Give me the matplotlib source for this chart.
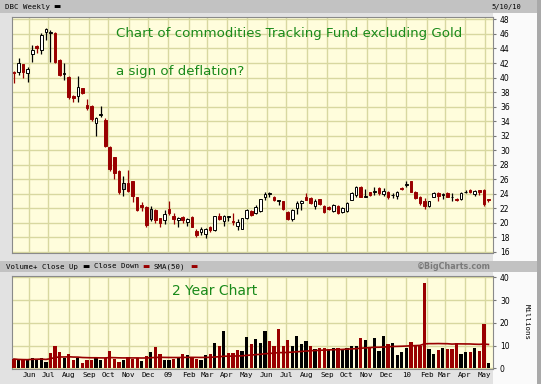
import numpy as np
import pandas as pd
import matplotlib
matplotlib.use('Agg')
import matplotlib.pyplot as plt
from matplotlib.patches import Rectangle

# weekly bars for DBC, week ending Friday
first_week = '2008-05-09'
opens = [40.8, 40.7, 41.8, 40.6, 43.3, 44.3, 43.8, 46.2, 46.1, 46.1,
         42.4, 40.5, 40.1, 37.5, 37.5, 38.5, 36.2, 36.1, 33.7, 34.9,
         34.2, 30.5, 29.0, 27.2, 25.5, 25.5, 25.7, 23.55, 22.5, 22.2,
         21.9, 21.8, 20.65, 20.4, 21.9, 21.0, 20.45, 20.8, 20.1, 20.8,
         18.95, 18.7, 18.5, 19.5, 19.05, 20.95, 20.2, 20.85, 20.2, 19.6,
         19.15, 20.65, 21.65, 21.35, 21.65, 23.6, 23.95, 23.6, 23.05, 22.95,
         21.55, 20.5, 22.0, 22.8, 23.55, 23.4, 22.35, 23.25, 22.35, 22.2,
         21.6, 22.35, 21.45, 21.6, 23.2, 23.85, 25.0, 23.6, 24.2, 24.3,
         24.8, 24.0, 24.3, 23.8, 23.7, 24.8, 25.2, 25.7, 24.3, 23.6,
         22.95, 22.35, 23.55, 24.1, 23.8, 24.1, 23.5, 23.3, 23.3, 24.2,
         24.55, 24.0, 24.5, 24.55, 23.3]
highs = [40.9, 42.7, 41.9, 41.5, 44.5, 44.5, 46.1, 46.8, 46.55, 46.2,
         42.6, 42.0, 40.2, 37.6, 40.2, 38.6, 37.0, 36.2, 34.6, 36.1,
         34.4, 30.6, 29.1, 27.3, 26.5, 27.3, 25.8, 23.6, 22.9, 22.3,
         22.3, 21.9, 20.7, 21.8, 22.95, 21.4, 20.8, 21.0, 20.7, 20.9,
         19.1, 19.5, 19.3, 19.6, 21.0, 21.3, 21.1, 21.0, 21.35, 20.5,
         20.7, 21.9, 21.8, 22.4, 23.3, 24.3, 24.3, 23.7, 23.2, 23.0,
         21.6, 21.9, 23.0, 23.2, 24.1, 23.5, 23.3, 23.3, 22.4, 22.3,
         22.6, 22.4, 22.2, 22.9, 24.2, 25.1, 25.1, 24.6, 24.3, 24.9,
         24.9, 24.8, 24.4, 24.1, 24.45, 24.9, 25.7, 25.8, 24.4, 23.7,
         23.4, 23.0, 24.2, 24.2, 24.1, 24.2, 24.1, 23.4, 24.2, 24.5,
         24.7, 24.5, 24.5, 24.6, 23.3]
lows = [39.3, 40.4, 40.0, 39.4, 42.2, 43.4, 43.3, 45.1, 42.2, 42.0,
        40.2, 39.7, 37.1, 36.6, 36.7, 37.7, 35.5, 34.0, 31.9, 34.6,
        30.5, 27.2, 26.0, 24.0, 23.7, 24.3, 22.9, 21.6, 21.7, 19.5,
        20.2, 20.0, 19.4, 19.9, 21.1, 19.9, 19.5, 20.0, 19.6, 19.4,
        18.1, 18.35, 17.9, 18.7, 18.9, 20.4, 19.6, 20.3, 19.75, 19.0,
        19.1, 20.5, 21.0, 21.2, 21.5, 23.1, 23.55, 23.0, 22.5, 21.8,
        20.4, 20.3, 21.2, 21.8, 23.1, 22.6, 21.9, 22.5, 21.4, 21.8,
        21.5, 21.2, 21.3, 21.5, 23.1, 23.6, 23.5, 23.5, 23.7, 23.9,
        23.8, 23.7, 23.3, 23.4, 23.3, 24.5, 25.0, 24.2, 23.3, 22.5,
        21.9, 22.2, 23.5, 23.0, 23.3, 23.5, 23.0, 23.0, 23.2, 24.1,
        24.1, 23.7, 23.8, 22.3, 22.9]
closes = [40.6, 42.0, 40.7, 41.2, 43.8, 44.1, 45.9, 46.65, 46.2, 42.2,
          40.4, 40.6, 37.3, 37.2, 38.7, 37.9, 35.8, 34.3, 34.5, 35.0,
          30.6, 27.4, 26.9, 24.2, 24.6, 24.45, 23.7, 21.8, 22.2, 19.7,
          20.6, 20.4, 20.05, 21.2, 21.35, 20.6, 20.7, 20.4, 20.5, 19.5,
          18.4, 19.15, 19.2, 19.0, 20.95, 20.5, 20.95, 20.95, 20.1, 20.1,
          20.65, 21.8, 21.1, 22.25, 23.25, 24.0, 24.05, 23.1, 23.15, 21.9,
          20.5, 21.8, 22.7, 22.95, 23.2, 22.7, 22.95, 22.6, 21.55, 21.9,
          22.5, 21.35, 22.05, 22.8, 24.1, 24.9, 23.6, 23.7, 23.8, 24.4,
          24.1, 24.45, 23.6, 23.9, 24.3, 24.6, 25.35, 24.3, 23.4, 22.7,
          22.3, 22.95, 24.1, 23.75, 24.0, 23.55, 23.6, 23.1, 24.1, 24.3,
          24.25, 24.4, 24.3, 22.6, 23.1]
# b = close up (black), r = close down (red)
candle_colors = ("rbrbbrbbbr" "rbrrbrrrbb" "rrrrbrrrrr" "brrbrrbrbr" "rbbrbrbbrb"
                 "bbrbbbbrbr" "rbbbrrbrrr" "brbbbbrbrb" "rbrbbrbrrr" "rbbrbrbrbb" "rbrrr")

volumes = [4.1, 3.7, 3.7, 3.7, 4.7, 4.1, 4.4, 2.9, 6.6, 9.8,
           7.3, 4.7, 6.2, 3.5, 4.4, 2.2, 3.7, 3.7, 4.7, 3.5,
           4.4, 7.6, 4.0, 2.9, 3.7, 5.0, 4.1, 4.7, 3.2, 5.4,
           7.3, 9.4, 6.2, 3.5, 3.7, 4.1, 4.7, 6.3, 5.9, 5.0,
           4.1, 3.7, 5.9, 6.3, 11.0, 9.8, 16.4, 6.6, 6.6, 8.1,
           7.6, 13.9, 10.5, 12.9, 11.3, 16.4, 12.0, 9.9, 17.3, 9.8,
           12.5, 9.8, 14.4, 10.7, 12.0, 9.8, 8.5, 8.8, 8.8, 8.5,
           8.8, 8.8, 8.5, 8.8, 9.8, 9.8, 13.5, 12.3, 9.1, 13.2,
           7.8, 14.4, 10.5, 11.0, 5.9, 7.3, 8.8, 11.4, 10.3, 10.0,
           37.4, 8.5, 6.2, 8.1, 8.8, 8.4, 8.5, 11.0, 6.2, 7.0,
           7.0, 8.8, 7.6, 19.6, 2.5]
volume_colors = ("rbrbbbbbrr" "rbrrbrrrbb" "rrrrbrrrbr" "brrbbrbrbr" "rbbrbrbrrr"
                 "bbrbbbrrrr" "rbbbbrbrrb" "brbbbbrbrb" "bbrbbbbrrr" "rbbrbrrrbb" "rbrrb")

month_labels = ['Jun', 'Jul', 'Aug', 'Sep', 'Oct', 'Nov', 'Dec', '09', 'Feb', 'Mar', 'Apr', 'May',
                'Jun', 'Jul', 'Aug', 'Sep', 'Oct', 'Nov', 'Dec', '10', 'Feb', 'Mar', 'Apr', 'May']
price_ticks = list(range(16, 50, 2))
volume_ticks = [0, 10, 20, 30, 40]

RED = '#990000'
GREEN = '#1a8a1a'
BG = '#fffddc'
GRID = '#d8d8a0'
W, H = 541, 384


def box(x0, y0, x1, y1):
    # pixel box (from top left) -> figure fraction rect
    return [x0 / W, 1 - y1 / H, (x1 - x0) / W, (y1 - y0) / H]


def band(x0, y0, x1, y1, color):
    r = Rectangle((x0 / W, 1 - y1 / H), (x1 - x0) / W, (y1 - y0) / H,
                  transform=fig.transFigure, color=color, zorder=-5, lw=0)
    fig.add_artist(r)


def ftext(x, y, s, **kw):
    # text placed in pixel coords from top left
    kw.setdefault('va', 'center')
    return fig.text(x / W, 1 - y / H, s, **kw)


dates = pd.date_range(first_week, periods=len(closes), freq='7D')
months = pd.date_range('2008-06-01', periods=len(month_labels), freq='MS')
o = np.array(opens)
c = np.array(closes)

fig = plt.figure(figsize=(W / 100, H / 100), dpi=100)
fig.patch.set_facecolor('#e2e2e2')
band(0, 0, W, 13, '#c2c2c2')
band(493, 13, 537, 384, '#fafafa')
band(537, 0, W, H, '#a9a9a9')
band(0, 260.5, 537, 272, '#c2c2c2')

xlim = (dates[0] - pd.Timedelta(days=3), dates[0] + pd.Timedelta(days=735))

# ---- price panel ----
ax = fig.add_axes(box(12, 16.5, 493, 252.7))
ax.set_facecolor(BG)
for i in range(len(dates)):
    col = 'black' if candle_colors[i] == 'b' else RED
    if candle_colors[i] == 'b':
        face = 'white' if c[i] >= o[i] else '#8c8c8c'
    else:
        face = RED
    ax.vlines(dates[i], lows[i], highs[i], color=col, lw=0.9, zorder=3)
    ax.bar(dates[i], max(abs(c[i] - o[i]), 0.06), bottom=min(o[i], c[i]), width=4.0,
           facecolor=face, edgecolor=col, lw=0.7, zorder=4)
ax.set_xlim(xlim)
ax.set_ylim(15.9, 48.4)
ax.set_yticks(price_ticks)
ax.yaxis.tick_right()
ax.tick_params(axis='y', length=2, labelsize=5.5, pad=3, color='#777777')
ax.set_xticks(months)
ax.tick_params(axis='x', length=0, labelbottom=False)
ax.grid(True, color=GRID, lw=1.0)
ax.set_axisbelow(True)
for s in ax.spines.values():
    s.set_color('#8a8a8a')
    s.set_linewidth(0.8)

ftext(116, 33, 'Chart of commodities Tracking Fund excluding Gold', fontsize=9.6, color=GREEN)
ftext(116, 72, 'a sign of deflation?', fontsize=9.6, color=GREEN)
ftext(5, 6.5, 'DBC Weekly', fontsize=5.3, family='DejaVu Sans Mono')
ftext(53, 6.5, '\u25ac', fontsize=5.5)
ftext(521, 6.5, '5/10/10', fontsize=5.0, family='DejaVu Sans Mono', ha='right')

# ---- volume panel ----
av = fig.add_axes(box(12, 275.7, 493, 369))
av.set_facecolor(BG)
vcols = ['black' if v == 'b' else RED for v in volume_colors]
av.bar(dates, volumes, width=5.0, color=vcols, zorder=3)
sma = pd.Series(volumes).rolling(50, min_periods=1).mean()
av.plot(dates, sma, color=RED, lw=1.2, zorder=4)
av.set_xlim(xlim)
av.set_ylim(-0.3, 40.7)
av.set_yticks(volume_ticks)
av.yaxis.tick_right()
av.tick_params(axis='y', length=2, labelsize=5.5, pad=3, color='#777777')
av.set_xticks(months)
av.set_xticklabels(month_labels, fontsize=5.4, family='DejaVu Sans Mono')
av.tick_params(axis='x', length=0, pad=2.5)
av.grid(True, color=GRID, lw=1.0)
av.set_axisbelow(True)
for s in av.spines.values():
    s.set_color('#8a8a8a')
    s.set_linewidth(0.8)

ftext(172, 291, '2 Year Chart', fontsize=10, color=GREEN)
mono = dict(fontsize=5.3, family='DejaVu Sans Mono')
ftext(6, 266.5, 'Volume+ Close Up', **mono)
ftext(82, 266.5, '\u25ac', fontsize=5.5, color='black')
ftext(94, 266.5, 'Close Down', **mono)
ftext(142, 266.5, '\u25ac', fontsize=5.5, color=RED)
ftext(153, 266.5, 'SMA(50)', **mono)
ftext(190, 266.5, '\u25ac', fontsize=5.5, color=RED)
ftext(491, 266.5, '\u00a9BigCharts.com', fontsize=5.8, weight='bold', color='#7a7a7a', ha='right')
ftext(527, 322, 'Millions', fontsize=5.3, family='DejaVu Sans Mono', rotation=270, ha='center')

fig.savefig('out.png', dpi=100, facecolor=fig.get_facecolor())
